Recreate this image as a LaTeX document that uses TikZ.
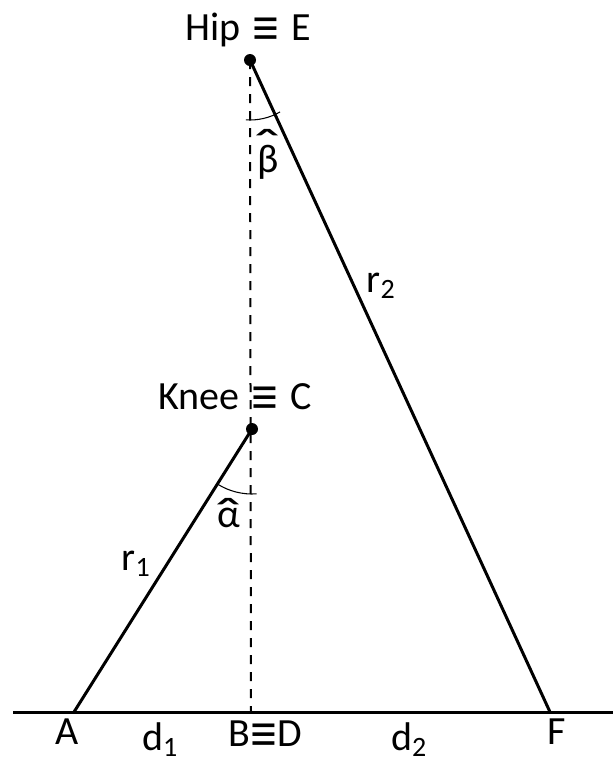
\documentclass[tikz,border=0pt]{standalone}
\usepackage{graphicx}
\usepackage{fontspec}
\setmainfont{Carlito}
\usetikzlibrary{calc}
\newcommand{\eqv}{\raisebox{-0.17em}{\scalebox{1.35}[1.4]{≡}}}
\newcommand{\hatted}[2]{\ooalign{#1\cr\hidewidth\raisebox{#2}{\scalebox{1.9}[1.3]{ˆ}}\hidewidth\cr}}
\begin{document}
\begin{tikzpicture}[x=0.75pt,y=-0.75pt,
  lbl/.style={font=\fontsize{30}{34}\selectfont, inner sep=0pt, anchor=base},
  thick line/.style={line width=2.25pt},
  dashline/.style={line width=1.5pt, dash pattern=on 6.75pt off 6pt},
  arcline/.style={line width=0.8pt},
  dot/.style={circle, fill=black, inner sep=0pt, minimum size=9pt}]
\useasboundingbox (0,0) rectangle (613,761);
\coordinate (E) at (250,60);
\coordinate (C) at (252,429);
\coordinate (A) at (74,712);
\coordinate (F) at (550,712);
\coordinate (B) at (251,712);
\coordinate (G0) at (13,712);
\coordinate (G1) at (613,712);
% ground
\draw[thick line] (G0) -- (G1);
% dashed vertical
\draw[dashline] (E) -- (B);
% legs
\draw[thick line] (E) -- (F);
\draw[thick line] (C) -- (A);
% angle arcs
\draw[arcline] ($(E)+(94:60)$) arc[start angle=94, end angle=60, radius=60];
\draw[arcline] ($(C)+(86:65)$) arc[start angle=86, end angle=122, radius=65];
% dots
\node[dot] (Ed) at (E) {};
\node[dot] (Cd) at (C) {};
% labels
\node[lbl] (hip) at (248,40) {Hip\hspace{0.3em}\eqv\hspace{0.3em}E};
\node[lbl] (knee) at (235,409) {Knee\hspace{0.3em}\eqv\hspace{0.3em}C};
\node[lbl] (la) at (67,744) {A};
\node[lbl] (lb) at (265,746) {B\eqv D};
\node[lbl] (lf) at (557,744) {F};
\node[lbl] (d1) at (160,750) {d\textsubscript{1}};
\node[lbl] (d2) at (409,750) {d\textsubscript{2}};
\node[lbl] (r2) at (381,292) {r\textsubscript{2}};
\node[lbl] (r1) at (136,570) {r\textsubscript{1}};
\node[lbl] (beta) at (268,172) {\hatted{β}{0.2em}};
\node[lbl] (alpha) at (229,527) {\hatted{α}{-0.15em}};
\end{tikzpicture}
\end{document}
